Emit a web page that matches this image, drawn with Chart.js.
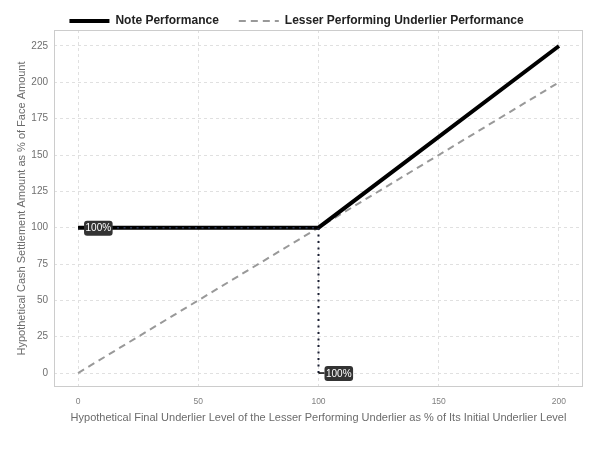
<!DOCTYPE html>
<html>
<head>
<meta charset="utf-8">
<script src="https://cdn.jsdelivr.net/npm/chart.js@4/dist/chart.umd.min.js"></script>
<style>
  html, body { margin: 0; padding: 0; background: #ffffff; }
  #wrap { width: 600px; height: 450px; }
</style>
</head>
<body>
<div id="wrap"><canvas id="c" width="600" height="450"></canvas></div>
<script>
// ---- data ----
const noteX = [0, 100, 200];
const noteY = [100, 100, 225];
const underX = [0, 200];
const underY = [0, 200];
const guideVX = [100, 100];
const guideVY = [0, 100];
const guideHX = [0, 100];
const guideHY = [100, 100];
const xTicks = [0, 50, 100, 150, 200];
const yTicks = [0, 25, 50, 75, 100, 125, 150, 175, 200, 225];
const labelX = [0, 100];
const labelY = [100, 0];
const labelText = ['100%', '100%'];
const seriesNames = ['Note Performance', 'Lesser Performing Underlier Performance'];
const xTitle = 'Hypothetical Final Underlier Level of the Lesser Performing Underlier as % of Its Initial Underlier Level';
const yTitle = 'Hypothetical Cash Settlement Amount as % of Face Amount';

const pts = (xs, ys) => xs.map((x, i) => ({x: x, y: ys[i]}));
const FONT = "'Liberation Sans', Arial, Helvetica, sans-serif";

const panelPlugin = {
  id: 'panel',
  beforeDatasetsDraw(chart) {
    const {ctx, chartArea: a} = chart;
    ctx.save();
    ctx.strokeStyle = '#cccccc';
    ctx.lineWidth = 1;
    ctx.setLineDash([]);
    ctx.strokeRect(a.left + 0.5, a.top + 0.5, a.right - a.left - 1, a.bottom - a.top - 1);
    ctx.restore();
  }
};

const labelPlugin = {
  id: 'valueLabels',
  afterDatasetsDraw(chart) {
    const {ctx, scales} = chart;
    ctx.save();
    ctx.font = '10px ' + FONT;
    for (let i = 0; i < labelX.length; i++) {
      const px = scales.x.getPixelForValue(labelX[i]);
      const py = scales.y.getPixelForValue(labelY[i]);
      const tw = ctx.measureText(labelText[i]).width;
      const bx = px + 6, bw = tw + 3, bh = 15, by = py - bh / 2 + 0.5;
      ctx.strokeStyle = '#000000';
      ctx.lineWidth = 1.5;
      ctx.setLineDash([]);
      ctx.beginPath();
      ctx.moveTo(px, py);
      ctx.lineTo(bx, py);
      ctx.stroke();
      ctx.fillStyle = '#333333';
      ctx.beginPath();
      ctx.roundRect(bx, by, bw, bh, 3);
      ctx.fill();
      ctx.fillStyle = '#ffffff';
      ctx.textAlign = 'center';
      ctx.textBaseline = 'middle';
      ctx.fillText(labelText[i], bx + bw / 2, by + bh / 2 + 0.5);
    }
    ctx.restore();
  }
};

new Chart(document.getElementById('c'), {
  type: 'line',
  data: {
    datasets: [
      { label: seriesNames[0], data: pts(noteX, noteY), borderColor: '#000000', backgroundColor: '#000000',
        borderWidth: 4, pointRadius: 0, order: 1, borderCapStyle: 'butt' },
      { label: seriesNames[1], data: pts(underX, underY), borderColor: '#999999', backgroundColor: '#999999',
        borderWidth: 2, borderDash: [7, 5], pointRadius: 0, order: 2 },
      { label: 'guideV', data: pts(guideVX, guideVY), borderColor: '#1a1f33', borderWidth: 2,
        borderDash: [2, 4.5], pointRadius: 0, order: 0 },
      { label: 'guideH', data: pts(guideHX, guideHY), borderColor: '#2a3550', borderWidth: 1.5,
        borderDash: [2, 4.5], pointRadius: 0, order: 0 }
    ]
  },
  options: {
    responsive: false,
    animation: false,
    devicePixelRatio: 1,
    layout: { padding: { top: -5, right: 17, bottom: 0, left: 10 } },
    plugins: {
      tooltip: { enabled: false },
      legend: {
        position: 'top',
        maxHeight: 35,
        labels: {
          generateLabels: (chart) => chart.data.datasets
            .map((ds, i) => ({
              text: ds.label, datasetIndex: i, hidden: false,
              fillStyle: ds.borderColor, strokeStyle: ds.borderColor,
              lineWidth: ds.borderWidth, lineDash: ds.borderDash || [],
              lineCap: 'butt', pointStyle: 'line', fontColor: '#222222'
            }))
            .filter(item => seriesNames.includes(item.text)),
          usePointStyle: true,
          pointStyle: 'line',
          pointStyleWidth: 40,
          padding: 20,
          color: '#222222',
          font: { family: FONT, size: 12, weight: 'bold' }
        }
      }
    },
    scales: {
      x: {
        type: 'linear',
        min: -10, max: 210,
        afterBuildTicks: (s) => { s.ticks = xTicks.map(v => ({value: v})); },
        afterFit: (s) => { s.height = 63; },
        border: { display: false, dash: [3, 3] },
        grid: { color: '#e0e0e0', lineWidth: 1, drawTicks: false },
        ticks: { padding: 10, color: '#808080', font: { family: FONT, size: 8.5 }, maxRotation: 0 },
        title: { display: true, text: xTitle, color: '#6b6b6b', font: { family: FONT, size: 11 },
                 padding: { top: 0, bottom: 25.4 } }
      },
      y: {
        type: 'linear',
        min: -9.6, max: 236,
        afterBuildTicks: (s) => { s.ticks = yTicks.map(v => ({value: v})); },
        afterFit: (s) => { s.width = 44; },
        border: { display: false, dash: [3, 3] },
        grid: { color: '#e0e0e0', lineWidth: 1, drawTicks: false },
        ticks: { padding: 6, color: '#6f6f6f', font: { family: FONT, size: 10 } },
        title: { display: true, text: yTitle, color: '#6b6b6b', font: { family: FONT, size: 11 },
                 padding: { top: 4.9, bottom: 0 } }
      }
    }
  },
  plugins: [panelPlugin, labelPlugin]
});
</script>
</body>
</html>
